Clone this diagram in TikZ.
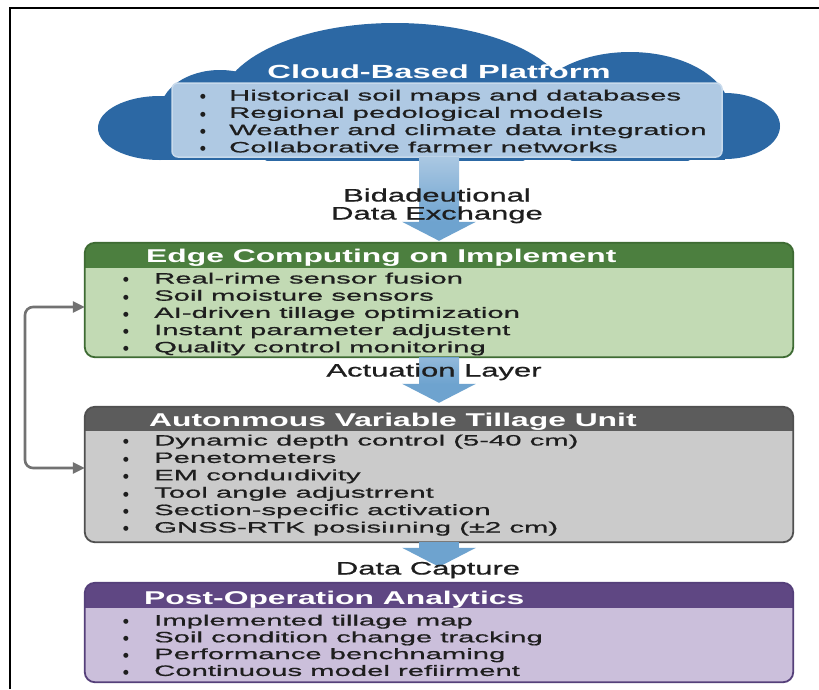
\documentclass[tikz,border=0pt]{standalone}
\usepackage{fontspec}
\setmainfont{Liberation Sans}[FakeStretch=1.72]
\newfontfamily\itemfont{Liberation Sans}[FakeStretch=1.95,FakeBold=0.8]
\newfontfamily\labelfont{Liberation Sans}[FakeStretch=1.72,FakeBold=0.8]
\newfontfamily\bulfont{DejaVu Sans}
\usetikzlibrary{arrows.meta,calc}

\definecolor{cloudblue}{HTML}{2C68A4}
\definecolor{innerblue}{HTML}{AFC9E3}
\definecolor{inneredge}{HTML}{C8DAEC}
\definecolor{flowblue}{HTML}{6EA3CF}
\definecolor{flowlight}{HTML}{A9C7E2}
\definecolor{textdark}{HTML}{1E1E1E}
\definecolor{ghead}{HTML}{4C7F3F}
\definecolor{gbody}{HTML}{C2DAB4}
\definecolor{gedge}{HTML}{3E6B33}
\definecolor{khead}{HTML}{5C5C5C}
\definecolor{kbody}{HTML}{CBCBCB}
\definecolor{kedge}{HTML}{505050}
\definecolor{phead}{HTML}{5F4783}
\definecolor{pbody}{HTML}{CBBFDB}
\definecolor{pedge}{HTML}{55407A}
\definecolor{fbgray}{HTML}{727272}

% list marker: a round dot, then a fixed indent
\newcommand\bul[1]{\makebox[#1][l]{\raisebox{1.6pt}{\bulfont\fontsize{6.5}{7}\selectfont ●}}}

\begin{document}
\begin{tikzpicture}[x=1pt,y=-1pt,
  panel/.style={inner sep=0pt, minimum width=708pt, rounded corners=10pt},
  paneltitle/.style={anchor=base west, inner sep=0pt, text=white,
    font=\fontsize{18.5}{20}\selectfont\bfseries},
  item/.style={anchor=base west, inner sep=0pt, text=textdark,
    font=\itemfont\fontsize{15}{17}\selectfont},
  flowlabel/.style={anchor=base, inner sep=0pt, text=textdark,
    font=\labelfont\fontsize{18}{20}\selectfont},
  flow/.style={draw=flowblue, line width=40pt,
    -{Triangle[length=19pt,width=73pt]}},
  feedback/.style={draw=fbgray, line width=2.6pt, rounded corners=8pt,
    {Triangle[length=12pt,width=11pt]}-{Triangle[length=12pt,width=11pt]}}]
\useasboundingbox (0,0) rectangle (819,689);
\fill[white] (0,0) rectangle (819,689);

% frame lines along the top and left
\draw[line width=2pt, black] (10,689) -- (10,8) -- (819,8);

% cloud silhouette
\begin{scope}
  \clip (0,0) rectangle (819,160);
  \fill[cloudblue] (395,105) ellipse [x radius=175, y radius=82];
  \fill[cloudblue] (630,112) ellipse [x radius=100, y radius=60];
  \fill[cloudblue] (220,112) ellipse [x radius=60, y radius=42];
  \fill[cloudblue] (160,128) ellipse [x radius=62, y radius=32];
  \fill[cloudblue] (725,126) ellipse [x radius=55, y radius=33];
  \fill[cloudblue] (160,110) rectangle (725,160);
\end{scope}

\node[inner sep=0pt, minimum width=550pt, minimum height=74pt,
  rounded corners=6pt, fill=innerblue, draw=inneredge, line width=1.5pt]
  (cloudbox) at (447,120) {};
\node[anchor=base, inner sep=0pt, text=white,
  font=\fontsize{19}{20}\selectfont\bfseries] (cloudtitle) at (439,78.5)
  {Cloud-Based Platform};
\foreach \t [count=\i] in {Historical soil maps and databases,
  Regional pedological models, Weather and climate data integration,
  Collaborative farmer networks}
  \node[item] (cloud-\i) at (200,{100.5+(\i-1)*17.3}) {\bul{29pt}\t};

% edge computing panel
\node[panel, minimum height=114pt, fill=gbody] (edgebox) at (439,300) {};
\begin{scope}
  \clip[rounded corners=10pt] (edgebox.north west) rectangle (edgebox.south east);
  \fill[ghead] (edgebox.north west) rectangle ([yshift=-25pt]edgebox.north east);
\end{scope}
\draw[gedge, line width=1.8pt, rounded corners=10pt]
  (edgebox.north west) rectangle (edgebox.south east);
\node[paneltitle] (edgetitle) at (146,262) {Edge Computing on Implement};
\foreach \t [count=\i] in {Real-rime sensor fusion, Soil moisture sensors,
  AI-driven tillage optimization, Instant parameter adjustent,
  Quality control monitoring}
  \node[item] (edge-\i) at (123,{283.5+(\i-1)*17.2}) {\bul{31pt}\t};

% tillage unit panel
\node[panel, minimum height=135pt, fill=kbody] (tillbox) at (439,474.5) {};
\begin{scope}
  \clip[rounded corners=10pt] (tillbox.north west) rectangle (tillbox.south east);
  \fill[khead] (tillbox.north west) rectangle ([yshift=-24pt]tillbox.north east);
\end{scope}
\draw[kedge, line width=1.8pt, rounded corners=10pt]
  (tillbox.north west) rectangle (tillbox.south east);
\node[paneltitle] (tilltitle) at (149,426) {Autonmous Variable Tillage Unit};
\foreach \t [count=\i] in {Dynamic depth control (5-40 cm), Penetometers,
  EM conduıdivity, Tool angle adjustrrent, Section-specific activation,
  GNSS-RTK posisiıning (±2 cm)}
  \node[item] (till-\i) at (123,{445.5+(\i-1)*17.4}) {\bul{31pt}\t};

% analytics panel
\node[panel, minimum height=99pt, fill=pbody] (postbox) at (439,632.5) {};
\begin{scope}
  \clip[rounded corners=10pt] (postbox.north west) rectangle (postbox.south east);
  \fill[phead] (postbox.north west) rectangle ([yshift=-25pt]postbox.north east);
\end{scope}
\draw[pedge, line width=1.8pt, rounded corners=10pt]
  (postbox.north west) rectangle (postbox.south east);
\node[paneltitle] (posttitle) at (144,604) {Post-Operation Analytics};
\foreach \t [count=\i] in {Implemented tillage map,
  Soil condition change tracking, Performance benchnaming,
  Continuous model refiirment}
  \node[item] (post-\i) at (123,{625.5+(\i-1)*16.8}) {\bul{31pt}\t};

% flow arrows between layers, shafts fading in from above
\draw[flow] (cloudbox.south -| edgebox.north) -- ([yshift=2pt]edgebox.north);
\shade[top color=flowlight, bottom color=flowblue]
  ($(cloudbox.south -| edgebox.north)+(-20,0)$) rectangle ($(edgebox.north)+(20,-21)$);
\draw[flow] (edgebox.south) -- ([yshift=4pt]tillbox.north);
\shade[top color=flowlight!60!flowblue, bottom color=flowblue]
  ($(edgebox.south)+(-20,1)$) rectangle ($(tillbox.north)+(20,-23)$);
\draw[flow] (tillbox.south) -- ([yshift=16pt]postbox.north);

\node[flowlabel] (xlabel1) at (437,201.5) {Bidadeutional};
\node[flowlabel] (xlabel2) at (437,219.5) {Data Exchange};
\node[flowlabel] (actlabel) at (434,376.5) {Actuation Layer};
\node[flowlabel] (caplabel) at (428,574.5) {Data Capture};

% feedback loop between edge computing and tillage unit
\coordinate (fbA) at (25,307);
\coordinate (fbB) at (25,468);
\draw[feedback] (edgebox.west |- fbA) -- (fbA) -- (fbB) -- (tillbox.west |- fbB);
\end{tikzpicture}
\end{document}
